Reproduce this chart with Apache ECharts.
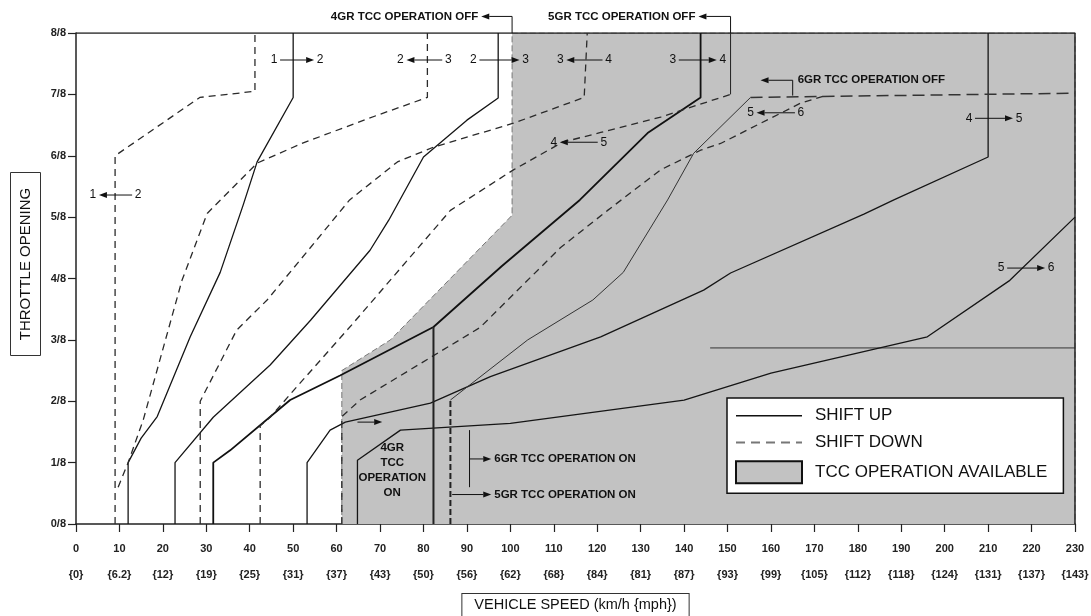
<!DOCTYPE html>
<html><head><meta charset="utf-8">
<script src="https://cdn.jsdelivr.net/npm/echarts@6/dist/echarts.min.js"></script>
<style>html,body{margin:0;padding:0;background:#fff}#c{width:1091px;height:616px}</style>
</head><body><div id="c"></div>
<script>
// ---------- tick labels ----------
const mphLabels = ['{0}','{6.2}','{12}','{19}','{25}','{31}','{37}','{43}','{50}','{56}','{62}','{68}','{84}','{81}','{87}','{93}','{99}','{105}','{112}','{118}','{124}','{131}','{137}','{143}'];
const throttleLabels = ['0/8','1/8','2/8','3/8','4/8','5/8','6/8','7/8','8/8'];

// ---------- TCC operation available region (km/h, throttle eighths) ----------
const tccArea = [[61.2,0],[61.2,2.5],[72.4,3.0],[100.4,5.03],[100.4,8],[230,8],[230,0]];

// ---------- shift up (solid) ----------
const up12 = [[12,0],[12,1],[15,1.4],[18.7,1.75],[26.3,3.05],[33.2,4.1],[38.5,5.2],[41.7,5.9],[50,6.95],[50,8]];
const up23 = [[22.8,0],[22.8,1],[31.6,1.74],[44.7,2.59],[54,3.32],[67.7,4.46],[72,4.95],[80,5.98],[90,6.58],[97.2,6.94],[97.2,8]];
const up34 = [[31.6,0],[31.6,1],[35.5,1.2],[49.3,2.02],[60.8,2.42],[82.3,3.21],[98,4.2],[116,5.28],[131.6,6.37],[143.8,6.95],[143.8,8]];
const up45 = [[53.2,0],[53.2,1],[58.5,1.53],[62,1.66],[81.6,1.97],[95.4,2.4],[120.8,3.05],[144.5,3.81],[150.7,4.09],[181.4,5.05],[188.3,5.28],[210,5.98],[210,8]];
const up56 = [[64.8,0],[64.8,1.04],[74.7,1.53],[100,1.64],[140,2.02],[160,2.46],[196,3.05],[215,3.97],[230,5.0]];

// ---------- shift down (dashed) ----------
const dn21 = [[9,0],[9,6],[28.5,6.95],[41.2,7.05],[41.2,8]];
const dn32 = [[9.7,0.6],[12,1.0],[15.5,1.7],[24.4,3.97],[30.2,5.06],[41.7,5.88],[52,6.2],[67,6.6],[80.9,6.95],[80.9,8]];
const dn43 = [[28.6,0],[28.6,2],[37,3.16],[44,3.65],[51.6,4.3],[63,5.28],[74,5.9],[82.3,6.14],[100.7,6.53],[117,6.95],[117.7,8]];
const dn54 = [[42.4,0],[42.4,1.6],[44.7,1.74],[50.9,2.24],[63.8,3.27],[86.2,5.11],[100.7,5.77],[112,6.22],[120.8,6.38],[134.6,6.63],[150.7,7.0]];
const dn65 = [[61.2,0],[61.2,1.75],[65.4,2.02],[93,3.2],[111.5,4.5],[122.4,5.11],[134.6,5.77],[143.8,6.09],[148.4,6.2],[166.9,6.86],[172,6.97]];

// ---------- TCC boundary lines ----------
const tcc5off = [[150.7,7.0],[150.7,8]];
const tcc5on = [[82.3,0],[82.3,3.21]];
const tcc6onV = [[86.2,0],[86.2,2.02]];
const tcc6 = [[86.2,2.02],[104,3.0],[119,3.65],[126,4.1],[136.2,5.28],[142.2,6.04],[155.3,6.95]];
const tcc6off = [[155.3,6.95],[230,7.02]];
const scanLine = [[146,2.87],[230,2.87]];
const frame = [[0,8],[230,8],[230,0]];

// ---------- annotations (data coordinates) ----------
// [xLeftText, xRightText, y, leftText, rightText, arrowDir(1 = right, -1 = left)]
const gearLabels = [
  [45.6,56.2,7.56,'1','2',1],
  [3.9,14.3,5.36,'1','2',-1],
  [74.7,85.7,7.56,'2','3',-1],
  [91.5,103.5,7.56,'2','3',1],
  [111.5,122.6,7.56,'3','4',-1],
  [137.4,148.9,7.56,'3','4',1],
  [110.0,121.5,6.22,'4','5',-1],
  [155.3,166.9,6.7,'5','6',-1],
  [205.6,217.1,6.61,'4','5',1],
  [213.0,224.5,4.17,'5','6',1]
];

const chart = echarts.init(document.getElementById('c'));

function lineS(name, data, dashed, extra) {
  return Object.assign({
    type:'line', name:name, data:data, symbol:'none', silent:true, animation:false,
    lineStyle:{color: dashed ? '#2a2a2a' : '#151515', width:1.3, type: dashed ? [7,5] : 'solid'},
    z:3
  }, extra || {});
}

const tickFont = {fontFamily:'Liberation Sans', fontWeight:'bold', fontSize:11, color:'#222'};
const hiddenSym = {color:'rgba(0,0,0,0)', borderWidth:0, opacity:0};

const option = {
  backgroundColor:'#fff',
  animation:false,
  grid:{left:76, right:16, top:33, bottom:92, containLabel:false, outerBoundsMode:'none'},
  xAxis:{
    type:'value', min:0, max:230, interval:10,
    axisLine:{show:true, lineStyle:{color:'#222', width:1.5}},
    axisTick:{show:true, length:8, lineStyle:{color:'#222', width:1.2}},
    splitLine:{show:false},
    axisLabel:Object.assign({margin:12, lineHeight:26,
      formatter:function(v){ return v + '\n' + mphLabels[Math.round(v/10)]; }}, tickFont),
    name:'VEHICLE SPEED (km/h {mph})', nameLocation:'middle', nameGap:69,
    nameTextStyle:{fontFamily:'Liberation Sans', fontSize:14.5, color:'#111',
      borderColor:'#333', borderWidth:1, padding:[4,12,3,12], backgroundColor:'#fff'}
  },
  yAxis:{
    type:'value', min:0, max:8, interval:1,
    axisLine:{show:true, lineStyle:{color:'#222', width:1.5}},
    axisTick:{show:true, length:8, lineStyle:{color:'#222', width:1.2}},
    splitLine:{show:false},
    axisLabel:Object.assign({margin:10, formatter:function(v){ return throttleLabels[Math.round(v)]; }}, tickFont)
  },
  legend:{
    orient:'vertical', left:727, top:398, selectedMode:false,
    backgroundColor:'#fff', borderColor:'#111', borderWidth:1.5,
    padding:[9,16,9,8], itemGap:9, itemWidth:66, itemHeight:22,
    textStyle:{fontFamily:'Liberation Sans', fontSize:17, color:'#111', padding:[0,0,0,8]},
    data:[
      {name:'SHIFT UP', itemStyle:hiddenSym, lineStyle:{color:'#111', width:1.5}},
      {name:'SHIFT DOWN', itemStyle:hiddenSym, lineStyle:{color:'#777', type:[9,6], width:2}},
      {name:'TCC OPERATION AVAILABLE', icon:'rect', itemStyle:{color:'#c2c2c2', borderColor:'#111', borderWidth:2}}
    ]
  },
  series:[
    {type:'line', name:'TCC OPERATION AVAILABLE', data:tccArea, symbol:'none', silent:true, z:1,
      lineStyle:{color:'#777', width:1, type:[6,3]}, areaStyle:{color:'#c2c2c2', opacity:1}},
    lineS('scan', scanLine, false, {lineStyle:{color:'#707070', width:1.6}}),
    lineS('frame', frame, false, {lineStyle:{color:'#222', width:1.5}}),
    lineS('SHIFT UP', up12, false),
    lineS('SHIFT UP', up23, false),
    lineS('SHIFT UP', up34, false, {lineStyle:{color:'#111', width:1.8}}),
    lineS('SHIFT UP', up45, false),
    lineS('SHIFT UP', up56, false),
    lineS('SHIFT DOWN', dn21, true),
    lineS('SHIFT DOWN', dn32, true),
    lineS('SHIFT DOWN', dn43, true),
    lineS('SHIFT DOWN', dn54, true),
    lineS('SHIFT DOWN', dn65, true),
    lineS('tcc5off', tcc5off, false, {lineStyle:{color:'#222', width:1}}),
    lineS('tcc5on', tcc5on, false, {lineStyle:{color:'#222', width:2}}),
    lineS('tcc6onV', tcc6onV, true, {lineStyle:{color:'#222', width:2, type:[6,3]}}),
    lineS('tcc6', tcc6, false, {lineStyle:{color:'#333', width:1}}),
    lineS('tcc6off', tcc6off, true, {lineStyle:{color:'#333', width:1.5, type:[12,6]}})
  ]
};
chart.setOption(option);

// ---------- annotation graphics positioned through the axes ----------
function P(x, y){ return chart.convertToPixel({xAxisIndex:0, yAxisIndex:0}, [x, y]); }
function arrow(x1, y1, x2, y2) {
  const dx = x2 - x1, dy = y2 - y1, len = Math.hypot(dx, dy) || 1, ux = dx/len, uy = dy/len;
  const hl = 8, hw = 3, bx = x2 - ux*hl, by = y2 - uy*hl;
  return [
    {type:'line', silent:true, z:100, shape:{x1:x1, y1:y1, x2:bx, y2:by}, style:{stroke:'#111', lineWidth:1}},
    {type:'polygon', silent:true, z:100, shape:{points:[[x2,y2],[bx-uy*hw, by+ux*hw],[bx+uy*hw, by-ux*hw]]}, style:{fill:'#111'}}
  ];
}
function txt(x, y, s, opt) {
  opt = opt || {};
  return {type:'text', silent:true, z:101, x:x, y:y, rotation:opt.rotation || 0,
    style:{text:s, fill:'#111', font:(opt.font || '12px "Liberation Sans"'), align:opt.align || 'center',
      verticalAlign:'middle', lineHeight:opt.lineHeight || 14}};
}
function seg(a, b, w) {
  return {type:'line', silent:true, z:100, shape:{x1:a[0], y1:a[1], x2:b[0], y2:b[1]}, style:{stroke:'#111', lineWidth:w || 1}};
}

const g = [];
gearLabels.forEach(function(d){
  const pl = P(d[0], d[2]), pr = P(d[1], d[2]);
  g.push(txt(pl[0], pl[1], d[3]));
  g.push(txt(pr[0], pr[1], d[4]));
  if (d[5] > 0) g.push.apply(g, arrow(pl[0]+6, pl[1], pr[0]-6, pr[1]));
  else g.push.apply(g, arrow(pr[0]-6, pr[1], pl[0]+6, pl[1]));
});

const labFont = 'bold 11.5px "Liberation Sans"';
// 4GR TCC OPERATION OFF
(function(){
  const a = P(100.4, 8.27), b = P(100.4, 8), e = P(93.3, 8.27);
  g.push(seg(a, b));
  g.push.apply(g, arrow(a[0], a[1], e[0], e[1]));
  g.push(txt(e[0]-3, e[1], '4GR TCC OPERATION OFF', {align:'right', font:labFont}));
})();
// 5GR TCC OPERATION OFF
(function(){
  const a = P(150.7, 8.27), b = P(150.7, 8), e = P(143.3, 8.27);
  g.push(seg(a, b));
  g.push.apply(g, arrow(a[0], a[1], e[0], e[1]));
  g.push(txt(e[0]-3, e[1], '5GR TCC OPERATION OFF', {align:'right', font:labFont}));
})();
// 6GR TCC OPERATION OFF
(function(){
  const a = P(165, 7.23), b = P(165, 6.98), e = P(157.6, 7.23);
  g.push(seg(a, b));
  g.push.apply(g, arrow(a[0], a[1], e[0], e[1]));
  g.push(txt(a[0]+5, a[1], '6GR TCC OPERATION OFF', {align:'left', font:labFont}));
})();
// 4GR TCC OPERATION ON
(function(){
  const a = P(64.8, 1.66), b = P(70.5, 1.66);
  g.push.apply(g, arrow(a[0], a[1], b[0], b[1]));
  const c = P(72.8, 0.87);
  g.push(txt(c[0], c[1], '4GR\nTCC\nOPERATION\nON', {font:labFont, lineHeight:15}));
})();
// 6GR TCC OPERATION ON
(function(){
  const t = P(90.6, 1.53), bt = P(90.6, 0.6);
  g.push(seg(t, bt));
  const a = P(90.6, 1.06), b = P(95.6, 1.06);
  g.push.apply(g, arrow(a[0], a[1], b[0], b[1]));
  g.push(txt(b[0]+3, b[1], '6GR TCC OPERATION ON', {align:'left', font:labFont}));
})();
// 5GR TCC OPERATION ON
(function(){
  const a = P(86.6, 0.48), b = P(95.6, 0.48);
  g.push.apply(g, arrow(a[0], a[1], b[0], b[1]));
  g.push(txt(b[0]+3, b[1], '5GR TCC OPERATION ON', {align:'left', font:labFont}));
})();

// y axis title box
g.push({type:'group', left:10, top:172, children:[
  {type:'rect', shape:{x:0, y:0, width:30, height:183}, style:{fill:'#fff', stroke:'#333', lineWidth:1}},
  {type:'text', x:15, y:91.5, rotation:Math.PI/2,
    style:{text:'THROTTLE OPENING', fill:'#111', font:'15px "Liberation Sans"', align:'center', verticalAlign:'middle'}}
]});

chart.setOption({graphic:g});
</script>
</body></html>
